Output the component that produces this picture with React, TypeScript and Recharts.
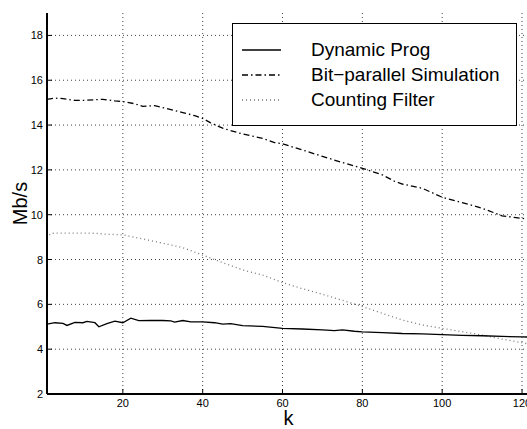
import { CartesianGrid, Line, LineChart, XAxis, YAxis } from 'recharts';

const kDyn = [1, 3, 5, 6, 8, 10, 11, 13, 14, 16, 18, 20, 22, 24, 27, 30, 32, 33, 35, 37, 40, 43, 45, 47, 50, 55, 60, 65, 70, 73, 75, 78, 80, 85, 90, 95, 100, 105, 110, 115, 120, 122];
const dynProg = [5.12, 5.18, 5.15, 5.06, 5.2, 5.18, 5.24, 5.18, 5.0, 5.14, 5.25, 5.18, 5.38, 5.27, 5.28, 5.28, 5.26, 5.21, 5.28, 5.22, 5.22, 5.18, 5.12, 5.14, 5.05, 5.02, 4.93, 4.9, 4.86, 4.83, 4.86, 4.8, 4.77, 4.74, 4.7, 4.68, 4.65, 4.62, 4.6, 4.57, 4.55, 4.54];

const kBit = [1, 3, 5, 8, 10, 13, 15, 18, 20, 23, 25, 28, 30, 33, 35, 38, 40, 42, 45, 50, 55, 58, 60, 65, 70, 75, 80, 85, 88, 90, 95, 100, 105, 110, 115, 118, 120, 122];
const bitPar = [15.15, 15.2, 15.18, 15.1, 15.1, 15.13, 15.15, 15.08, 15.05, 14.95, 14.83, 14.87, 14.78, 14.65, 14.56, 14.42, 14.3, 14.1, 13.86, 13.6, 13.41, 13.22, 13.16, 12.89, 12.6, 12.33, 12.07, 11.78, 11.5, 11.37, 11.18, 10.78, 10.54, 10.29, 9.95, 9.88, 9.84, 9.8];

const kCnt = [1, 2, 5, 10, 13, 16, 20, 25, 30, 35, 40, 45, 50, 55, 60, 65, 70, 75, 80, 85, 90, 95, 100, 105, 110, 115, 120, 122];
const cntFilter = [8.95, 9.17, 9.18, 9.18, 9.17, 9.13, 9.1, 8.92, 8.73, 8.53, 8.2, 7.86, 7.54, 7.31, 6.97, 6.7, 6.45, 6.18, 5.9, 5.6, 5.3, 5.08, 4.93, 4.78, 4.63, 4.45, 4.29, 4.22];

const xTicks = [20, 40, 60, 80, 100, 120];
const yTicks = [2, 4, 6, 8, 10, 12, 14, 16, 18];

const seriesNames = ['Dynamic Prog', 'Bit\u2212parallel Simulation', 'Counting Filter'];

const dynData = kDyn.map((k, i) => ({ k, v: dynProg[i] }));
const bitData = kBit.map((k, i) => ({ k, v: bitPar[i] }));
const cntData = kCnt.map((k, i) => ({ k, v: cntFilter[i] }));

const FONT = '"Liberation Sans", Arial, Helvetica, sans-serif';

const styles = [
    { stroke: '#000', dash: undefined, width: 1.3 },
    { stroke: '#000', dash: '6 3 1.5 3', width: 1.3 },
    { stroke: '#777', dash: '1 3', width: 1.3 },
];

function BottomTick(props: any) {
    const { x, y, payload } = props;
    return (
        <g>
            <line x1={x} x2={x} y1={y} y2={y - 5} stroke="#000" strokeWidth={1} />
            <text x={x} y={y + 13} textAnchor="middle" fontSize={11} fontFamily={FONT} fill="#000">
                {payload.value}
            </text>
        </g>
    );
}

function TopTick(props: any) {
    const { x, y } = props;
    return <line x1={x} x2={x} y1={y} y2={y + 5} stroke="#000" strokeWidth={1} />;
}

function LeftTick(props: any) {
    const { x, y, payload } = props;
    return (
        <g>
            <line x1={x} x2={x + 5} y1={y} y2={y} stroke="#000" strokeWidth={1} />
            <text x={x - 4} y={y + 4} textAnchor="end" fontSize={11} fontFamily={FONT} fill="#000">
                {payload.value}
            </text>
        </g>
    );
}

function LegendBox() {
    return (
        <div
            style={{
                position: 'absolute',
                left: 232,
                top: 23,
                width: 283,
                height: 101,
                border: '1.5px solid #000',
                background: '#fff',
                fontFamily: FONT,
                fontSize: 19,
            }}
        >
            {seriesNames.map((name, i) => (
                <div key={name} style={{ position: 'absolute', left: 0, top: 14 + i * 25, height: 24, width: 283 }}>
                    <svg width={60} height={24} style={{ position: 'absolute', left: 0, top: 0 }}>
                        <line
                            x1={9}
                            x2={48}
                            y1={12}
                            y2={12}
                            stroke={styles[i].stroke}
                            strokeWidth={styles[i].width}
                            strokeDasharray={styles[i].dash}
                        />
                    </svg>
                    <span style={{ position: 'absolute', left: 78, top: 0, lineHeight: '24px', whiteSpace: 'nowrap' }}>
                        {name}
                    </span>
                </div>
            ))}
        </div>
    );
}

export default function App() {
    return (
        <div
            style={{
                position: 'absolute',
                left: 0,
                top: 0,
                width: 527,
                height: 429,
                overflow: 'hidden',
                background: '#fff',
            }}
        >
            <LineChart width={540} height={429} margin={{ top: 13, right: 10, left: 0, bottom: 0 }}>
                <CartesianGrid
                    xAxisId="bottom"
                    stroke="#444"
                    strokeDasharray="1 3"
                    horizontalValues={[4, 6, 8, 10, 12, 14, 16, 18]}
                    verticalValues={xTicks}
                />
                <XAxis
                    xAxisId="bottom"
                    type="number"
                    dataKey="k"
                    domain={[1, 122]}
                    ticks={xTicks}
                    allowDataOverflow
                    height={35}
                    tickSize={0}
                    tickMargin={0}
                    tickLine={false}
                    axisLine={{ stroke: '#000', strokeWidth: 2 }}
                    tick={<BottomTick />}
                    label={{ value: 'k', position: 'insideBottom', offset: 4, fontSize: 20, fontFamily: FONT, fill: '#000' }}
                />
                <XAxis
                    xAxisId="top"
                    orientation="top"
                    type="number"
                    dataKey="k"
                    domain={[1, 122]}
                    ticks={xTicks}
                    allowDataOverflow
                    height={0}
                    tickSize={0}
                    tickMargin={0}
                    tickLine={false}
                    axisLine={{ stroke: '#000', strokeWidth: 2 }}
                    tick={<TopTick />}
                />
                <YAxis
                    type="number"
                    domain={[2, 19]}
                    ticks={yTicks}
                    allowDataOverflow
                    width={47}
                    tickSize={0}
                    tickMargin={0}
                    tickLine={false}
                    axisLine={{ stroke: '#000', strokeWidth: 2 }}
                    tick={<LeftTick />}
                    label={{ value: 'Mb/s', angle: -90, position: 'insideLeft', offset: 20, fontSize: 20, fontFamily: FONT, fill: '#000', style: { textAnchor: 'middle' } }}
                />
                <Line
                    xAxisId="bottom"
                    data={cntData}
                    dataKey="v"
                    name={seriesNames[2]}
                    stroke={styles[2].stroke}
                    strokeWidth={styles[2].width}
                    strokeDasharray={styles[2].dash}
                    dot={false}
                    isAnimationActive={false}
                />
                <Line
                    xAxisId="bottom"
                    data={bitData}
                    dataKey="v"
                    name={seriesNames[1]}
                    stroke={styles[1].stroke}
                    strokeWidth={styles[1].width}
                    strokeDasharray={styles[1].dash}
                    dot={false}
                    isAnimationActive={false}
                />
                <Line
                    xAxisId="bottom"
                    data={dynData}
                    dataKey="v"
                    name={seriesNames[0]}
                    stroke={styles[0].stroke}
                    strokeWidth={styles[0].width}
                    dot={false}
                    isAnimationActive={false}
                />
            </LineChart>
            <LegendBox />
        </div>
    );
}
